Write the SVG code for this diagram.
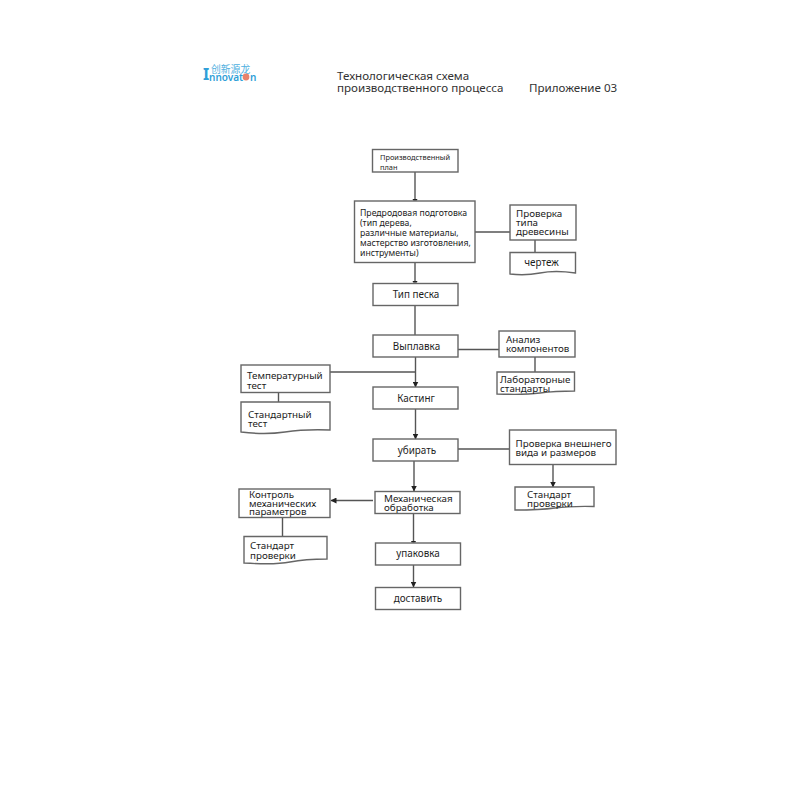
<svg xmlns="http://www.w3.org/2000/svg" width="800" height="800" viewBox="0 0 800 800">
<defs>
<marker id="ah" markerWidth="7" markerHeight="6" refX="5.500" refY="3" orient="auto" markerUnits="userSpaceOnUse"><path d="M0 0L6 3L0 6Z" fill="#222"/></marker>
<marker id="as" markerWidth="3" markerHeight="6" refX="2" refY="3" orient="auto" markerUnits="userSpaceOnUse"><path d="M0 0.500L2 1V5L0 5.500Z" fill="#222"/></marker>
</defs>
<style>
text{font-family:"Noto Sans","Liberation Sans",sans-serif;fill:#1c1c1c}
.b{fill:#fff;stroke:#666;stroke-width:1.4}
.c{fill:none;stroke:#555;stroke-width:1.4}
.a{marker-end:url(#ah)}
.s{marker-end:url(#as)}
.t{font-size:9.800px}
.m{font-size:9.900px;text-anchor:middle}
.p{font-size:8.700px}
.h{font-size:11.600px;fill:#333}
</style>
<rect width="800" height="800" fill="#fff"/>
<g id="logo">
<text x="211" y="72.500" font-size="9.800" style="font-family:'Noto Sans CJK SC',sans-serif;fill:#4fb0e0">创新源龙</text>
<text x="203" y="80" font-size="16" font-weight="700" style="fill:#2f9fd8">I</text>
<text x="209" y="80.500" font-size="10" font-weight="600" style="fill:#2f9fd8">nnovat</text>
<circle cx="246" cy="77" r="3.400" fill="#e8826a"/>
<text x="250" y="80.500" font-size="10" font-weight="600" style="fill:#2f9fd8">n</text>
</g>
<g id="title">
<text x="337" y="80" class="h">Технологическая схема</text>
<text x="337" y="92" class="h">производственного процесса</text>
<text x="529" y="91.500" class="h">Приложение 03</text>
</g>
<g id="connectors">
<path class="c s" d="M415 172V200.500"/>
<path class="c" d="M475 232H510"/>
<path class="c" d="M535 240V252"/>
<path class="c s" d="M415 263V282.500"/>
<path class="c" d="M415 305V335"/>
<path class="c" d="M458 349.500H499"/>
<path class="c" d="M535 357V372"/>
<path class="c a" d="M415.500 357V387"/>
<path class="c" d="M330 372H415"/>
<path class="c" d="M278.500 392V402"/>
<path class="c a" d="M415.500 409V439"/>
<path class="c" d="M458 449H509"/>
<path class="c a" d="M553 464V487"/>
<path class="c a" d="M414 461V491"/>
<path class="c a" d="M373 500.500H331"/>
<path class="c" d="M282.500 518V536"/>
<path class="c s" d="M413.500 514V542.500"/>
<path class="c a" d="M413.500 565V587"/>
</g>
<g id="n1"><rect class="b" x="372.500" y="149.500" width="85.500" height="22.500"/><text x="380" y="159.500" font-size="7.400">Производственный</text><text x="380" y="170" font-size="7.400">план</text></g>
<g id="n2"><rect class="b" x="354.500" y="201" width="120.500" height="61.500"/><text class="p" x="360" y="216">Предродовая подготовка</text><text class="p" x="360" y="226">(тип дерева,</text><text class="p" x="360" y="236">различные материалы,</text><text class="p" x="360" y="246">мастерство изготовления,</text><text class="p" x="360" y="256">инструменты)</text></g>
<g id="n3"><rect class="b" x="510" y="205" width="66" height="35"/><text class="t" x="516" y="217">Проверка</text><text class="t" x="516" y="226">типа</text><text class="t" x="516" y="235">древесины</text></g>
<g id="n4"><path class="b" d="M510 252.500H575.500V273Q555 270 540 273T510 274Z"/><text class="m" x="541.500" y="266">чертеж</text></g>
<g id="n5"><rect class="b" x="373" y="283.500" width="85" height="22"/><text class="m" x="416" y="298">Тип песка</text></g>
<g id="n6"><rect class="b" x="373" y="335" width="85" height="22"/><text class="m" x="416.500" y="349.500">Выплавка</text></g>
<g id="n7"><rect class="b" x="499" y="331" width="76" height="26"/><text class="t" x="506" y="342.500">Анализ</text><text class="t" x="506" y="351.500">компонентов</text></g>
<g id="n8"><path class="b" d="M497 372H574.500V391Q555 391 540 393T497 394Z"/><text class="t" x="500" y="383">Лабораторные</text><text class="t" x="500" y="392">стандарты</text></g>
<g id="n9"><rect class="b" x="241" y="365" width="89" height="27.500"/><text class="t" x="247" y="379">Температурный</text><text class="t" x="247" y="389">тест</text></g>
<g id="n10"><path class="b" d="M241 402H330V430Q305 429 285 432T241 432Z"/><text class="t" x="248" y="418">Стандартный</text><text class="t" x="248" y="427">тест</text></g>
<g id="n11"><rect class="b" x="373" y="387" width="85" height="22"/><text class="m" x="416" y="402">Кастинг</text></g>
<g id="n12"><rect class="b" x="373" y="439" width="85" height="22"/><text class="m" x="417" y="454">убирать</text></g>
<g id="n13"><rect class="b" x="509.500" y="430" width="106.500" height="34.500"/><text class="t" x="515.500" y="447">Проверка внешнего</text><text class="t" x="515.500" y="456">вида и размеров</text></g>
<g id="n14"><path class="b" d="M515 487H594V506.500Q570 506 555 508T515 510Z"/><text class="t" x="527" y="498">Стандарт</text><text class="t" x="527" y="507">проверки</text></g>
<g id="n15"><rect class="b" x="375" y="491.500" width="85" height="22"/><text class="t" x="384" y="502">Механическая</text><text class="t" x="384" y="511">обработка</text></g>
<g id="n16"><rect class="b" x="239" y="489" width="91" height="28.500"/><text class="t" x="249" y="498">Контроль</text><text class="t" x="249" y="506.500">механических</text><text class="t" x="249" y="515">параметров</text></g>
<g id="n17"><path class="b" d="M244 536.500H327V559Q305 559 290 562T244 563Z"/><text class="t" x="250" y="549">Стандарт</text><text class="t" x="250" y="559">проверки</text></g>
<g id="n18"><rect class="b" x="375.500" y="543" width="85" height="22"/><text class="m" x="418" y="557">упаковка</text></g>
<g id="n19"><rect class="b" x="375.500" y="587.500" width="85" height="22"/><text class="m" x="418" y="602">доставить</text></g>
</svg>
